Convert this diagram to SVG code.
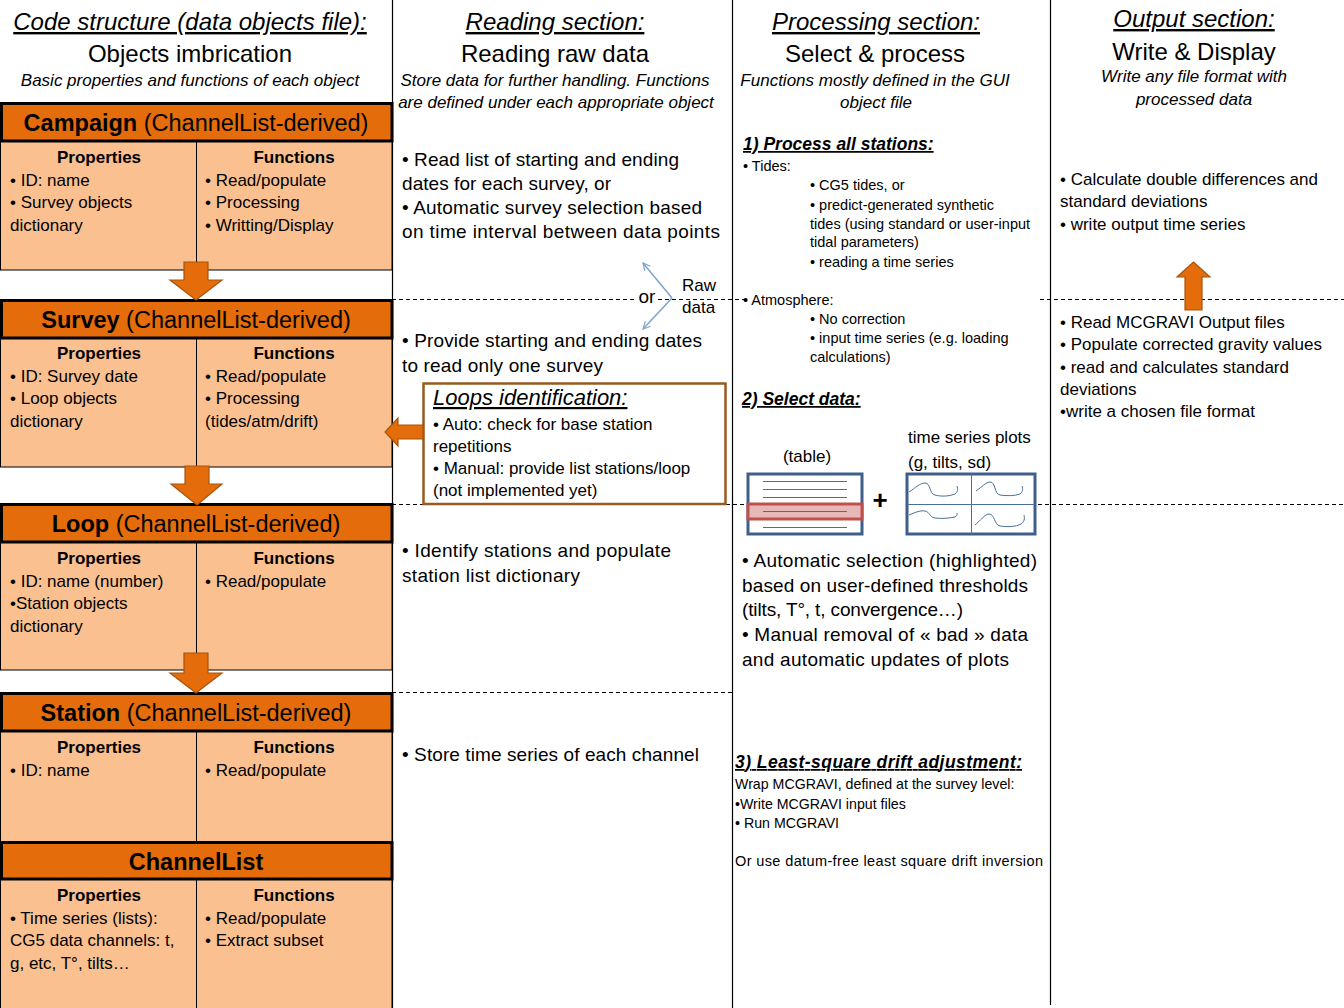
<svg xmlns="http://www.w3.org/2000/svg" width="1344" height="1008" viewBox="0 0 1344 1008">
<style>
text { font-family: "Liberation Sans", Arial, sans-serif; fill: #000; }
.title { font-size: 24px; font-style: italic; text-decoration: underline; }
.sub { font-size: 24px; }
.it { font-size: 17px; font-style: italic; }
.hdr { font-size: 23.5px; }
.f17 { font-size: 17px; }
.f19 { font-size: 19px; }
.f14 { font-size: 14.5px; }
.b { font-weight: bold; }
.sec { font-size: 17.5px; font-weight: bold; font-style: italic; text-decoration: underline; }
.hbar { fill: #E46C0A; stroke: #000; stroke-width: 3; }
.body { fill: #FAC090; stroke: #000; stroke-width: 1; }
.div { stroke: #000; stroke-width: 1; }
.col { stroke: #000; stroke-width: 1.2; }
.dash { stroke: #000; stroke-width: 1; stroke-dasharray: 4 3; fill: none; }
.oarrow { fill: #E46C0A; stroke: #A8540C; stroke-width: 1.2; }
.blue { stroke: #7FA3CC; stroke-width: 1.5; fill: none; }
.tline { stroke: #4A6F9C; stroke-width: 1; }
.frame { fill: #fff; stroke: #3E5F8A; stroke-width: 3; }
</style>
<defs>
<marker id="openhead" viewBox="0 0 10 10" refX="9" refY="5" markerWidth="9" markerHeight="9" markerUnits="userSpaceOnUse" orient="auto">
<path d="M1,1 L9,5 L1,9" fill="none" stroke="#7FA3CC" stroke-width="1.3"/>
</marker>
</defs>
<rect x="0" y="0" width="1344" height="1008" fill="#fff"/>

<!-- column separators -->
<g id="columns">
<line class="col" x1="392.5" y1="0" x2="392.5" y2="1008"/>
<line class="col" x1="732.5" y1="0" x2="732.5" y2="1008"/>
<line class="col" x1="1050.5" y1="0" x2="1050.5" y2="1005"/>
</g>

<g id="separators">
<line class="dash" x1="392" y1="299.5" x2="746" y2="299.5"/>
<line class="dash" x1="1040" y1="299.5" x2="1344" y2="299.5"/>
<line class="dash" x1="392" y1="504.5" x2="423" y2="504.5"/>
<line class="dash" x1="726" y1="504.5" x2="746" y2="504.5"/>
<line class="dash" x1="1038" y1="504.5" x2="1344" y2="504.5"/>
<line class="dash" x1="392" y1="692.5" x2="732" y2="692.5"/>
</g>

<!-- column headers -->
<g id="header-code">
<text class="title" x="190" y="30" text-anchor="middle">Code structure (data objects file):</text>
<text class="sub" x="190" y="62" text-anchor="middle">Objects imbrication</text>
<text class="it" x="190" y="86" text-anchor="middle">Basic properties and functions of each object</text>
</g>
<g id="header-reading">
<text class="title" x="555" y="30" text-anchor="middle">Reading section:</text>
<text class="sub" x="555" y="62" text-anchor="middle">Reading raw data</text>
<text class="it" x="555" y="86" text-anchor="middle">Store data for further handling. Functions</text>
<text class="it" x="556" y="108" text-anchor="middle">are defined under each appropriate object</text>
</g>
<g id="header-processing">
<text class="title" x="876" y="30" text-anchor="middle">Processing section:</text>
<text class="sub" x="875" y="62" text-anchor="middle">Select &amp; process</text>
<text class="it" x="875" y="86" text-anchor="middle">Functions mostly defined in the GUI</text>
<text class="it" x="876" y="108" text-anchor="middle">object file</text>
</g>
<g id="header-output">
<text class="title" x="1194" y="27" text-anchor="middle">Output section:</text>
<text class="sub" x="1194" y="60" text-anchor="middle">Write &amp; Display</text>
<text class="it" x="1194" y="82" text-anchor="middle">Write any file format with</text>
<text class="it" x="1194" y="105" text-anchor="middle">processed data</text>
</g>

<!-- Campaign -->
<g id="campaign">
<rect class="body" x="0.5" y="141" width="391.5" height="129"/>
<line class="div" x1="196.5" y1="141" x2="196.5" y2="270"/>
<rect class="hbar" x="1.5" y="103.5" width="390.5" height="37.5"/>
<text class="hdr" x="196" y="131" text-anchor="middle"><tspan class="b">Campaign</tspan> (ChannelList-derived)</text>
<text class="f17 b" x="99" y="163" text-anchor="middle">Properties</text>
<text class="f17 b" x="294" y="163" text-anchor="middle">Functions</text>
<text class="f17" x="10" y="186">• ID: name</text>
<text class="f17" x="10" y="208">• Survey objects</text>
<text class="f17" x="10" y="231">dictionary</text>
<text class="f17" x="205" y="186">• Read/populate</text>
<text class="f17" x="205" y="208">• Processing</text>
<text class="f17" x="205" y="231">• Writting/Display</text>
</g>

<!-- Survey -->
<g id="survey">
<rect class="body" x="0.5" y="338" width="391.5" height="129"/>
<line class="div" x1="196.5" y1="338" x2="196.5" y2="467"/>
<rect class="hbar" x="1.5" y="300.5" width="390.5" height="37.5"/>
<text class="hdr" x="196" y="328" text-anchor="middle"><tspan class="b">Survey</tspan> (ChannelList-derived)</text>
<text class="f17 b" x="99" y="359" text-anchor="middle">Properties</text>
<text class="f17 b" x="294" y="359" text-anchor="middle">Functions</text>
<text class="f17" x="10" y="382">• ID: Survey date</text>
<text class="f17" x="10" y="404">• Loop objects</text>
<text class="f17" x="10" y="427">dictionary</text>
<text class="f17" x="205" y="382">• Read/populate</text>
<text class="f17" x="205" y="404">• Processing</text>
<text class="f17" x="205" y="427">(tides/atm/drift)</text>
</g>

<!-- Loop -->
<g id="loop">
<rect class="body" x="0.5" y="542" width="391.5" height="128"/>
<line class="div" x1="196.5" y1="542" x2="196.5" y2="670"/>
<rect class="hbar" x="1.5" y="504.5" width="390.5" height="37.5"/>
<text class="hdr" x="196" y="532" text-anchor="middle"><tspan class="b">Loop</tspan> (ChannelList-derived)</text>
<text class="f17 b" x="99" y="564" text-anchor="middle">Properties</text>
<text class="f17 b" x="294" y="564" text-anchor="middle">Functions</text>
<text class="f17" x="10" y="587">• ID: name (number)</text>
<text class="f17" x="10" y="609">•Station objects</text>
<text class="f17" x="10" y="632">dictionary</text>
<text class="f17" x="205" y="587">• Read/populate</text>
</g>

<!-- Station -->
<g id="station">
<rect class="body" x="0.5" y="731" width="391.5" height="111"/>
<line class="div" x1="196.5" y1="731" x2="196.5" y2="842"/>
<rect class="hbar" x="1.5" y="693.5" width="390.5" height="37.5"/>
<text class="hdr" x="196" y="721" text-anchor="middle"><tspan class="b">Station</tspan> (ChannelList-derived)</text>
<text class="f17 b" x="99" y="753" text-anchor="middle">Properties</text>
<text class="f17 b" x="294" y="753" text-anchor="middle">Functions</text>
<text class="f17" x="10" y="776">• ID: name</text>
<text class="f17" x="205" y="776">• Read/populate</text>
</g>

<!-- ChannelList -->
<g id="channellist">
<rect class="body" x="0.5" y="879" width="391.5" height="135"/>
<line class="div" x1="196.5" y1="879" x2="196.5" y2="1008"/>
<rect class="hbar" x="1.5" y="842.5" width="390.5" height="36.5"/>
<text class="hdr b" x="196" y="870" text-anchor="middle">ChannelList</text>
<text class="f17 b" x="99" y="901" text-anchor="middle">Properties</text>
<text class="f17 b" x="294" y="901" text-anchor="middle">Functions</text>
<text class="f17" x="10" y="924">• Time series (lists):</text>
<text class="f17" x="10" y="946">CG5 data channels: t,</text>
<text class="f17" x="10" y="969">g, etc, T°, tilts…</text>
<text class="f17" x="205" y="924">• Read/populate</text>
<text class="f17" x="205" y="946">• Extract subset</text>
</g>

<!-- Reading column texts -->
<g id="reading-surveys">
<text class="f19" x="402" y="166" textLength="277">• Read list of starting and ending</text>
<text class="f19" x="402" y="190" textLength="209">dates for each survey, or</text>
<text class="f19" x="402" y="214" textLength="300">• Automatic survey selection based</text>
<text class="f19" x="402" y="238" textLength="318">on time interval between data points</text>
</g>
<g id="raw-data">
<rect x="636" y="287" width="22" height="20" fill="#fff"/>
<text class="f19" x="647" y="303" text-anchor="middle">or</text>
<text class="f17" x="682" y="291">Raw</text>
<text class="f17" x="682" y="313">data</text>
</g>
<g id="reading-one-survey">
<text class="f19" x="402" y="347" textLength="300">• Provide starting and ending dates</text>
<text class="f19" x="402" y="372" textLength="201">to read only one survey</text>
</g>
<g id="loops-identification">
<rect x="423.5" y="383.5" width="302" height="120.5" fill="#fff" stroke="#985A1E" stroke-width="2.5"/>
<text x="433" y="405" style="font-size:22px;font-style:italic;text-decoration:underline">Loops identification:</text>
<text class="f17" x="433" y="430">• Auto: check for base station</text>
<text class="f17" x="433" y="452">repetitions</text>
<text class="f17" x="433" y="474">• Manual: provide list stations/loop</text>
<text class="f17" x="433" y="496">(not implemented yet)</text>
</g>
<g id="reading-stations">
<text class="f19" x="402" y="557" textLength="269">• Identify stations and populate</text>
<text class="f19" x="402" y="582" textLength="178">station list dictionary</text>
</g>
<g id="reading-channels">
<text class="f19" x="402" y="761" textLength="297">• Store time series of each channel</text>
</g>

<!-- Processing column -->
<g id="process-stations">
<rect x="746" y="292" width="40" height="16" fill="#fff"/>
<text class="sec" x="743" y="150">1) Process  all stations:</text>
<text class="f14" x="743" y="171">• Tides:</text>
<text class="f14" x="810" y="190">• CG5 tides, or</text>
<text class="f14" x="810" y="210">• predict-generated synthetic</text>
<text class="f14" x="810" y="229">tides (using standard or user-input</text>
<text class="f14" x="810" y="247">tidal parameters)</text>
<text class="f14" x="810" y="267">• reading a time series</text>
<text class="f14" x="743" y="305">• Atmosphere:</text>
<text class="f14" x="810" y="324">• No correction</text>
<text class="f14" x="810" y="343">• input time series (e.g. loading</text>
<text class="f14" x="810" y="362">calculations)</text>
</g>
<g id="select-data">
<text class="sec" x="742" y="405">2) Select data:</text>
<text class="f17" x="807" y="462" text-anchor="middle">(table)</text>
<text class="f17" x="908" y="443">time series plots</text>
<text class="f17" x="908" y="468">(g, tilts, sd)</text>
<g id="table">
<rect class="frame" x="748" y="474" width="114" height="60"/>
<line class="tline" x1="763" y1="481.5" x2="847" y2="481.5"/>
<line class="tline" x1="763" y1="489.5" x2="847" y2="489.5"/>
<line class="tline" x1="763" y1="497.5" x2="847" y2="497.5"/>
<rect x="748" y="504" width="114" height="15" fill="#E6B9B8" stroke="#C0504D" stroke-width="3"/>
<line class="tline" x1="763" y1="511.5" x2="847" y2="511.5"/>
<line class="tline" x1="763" y1="527.5" x2="847" y2="527.5"/>
</g>
<text x="880" y="509" text-anchor="middle" style="font-size:26px;font-weight:bold">+</text>
<g id="plots">
<rect class="frame" x="907" y="474" width="128" height="60"/>
<line class="tline" x1="971.5" y1="474" x2="971.5" y2="534"/>
<line class="tline" x1="907" y1="504.5" x2="1035" y2="504.5"/>
<path class="tline" fill="none" d="M909,492 C915,488 920,483 925,483 C931,483 929,494 935,495 C942,497 950,496 955,494 C958,492 958,489 957,486"/>
<path class="tline" fill="none" d="M976,491 C982,487 986,482 990,482 C996,482 994,494 1000,495 C1006,496 1015,496 1020,494 C1023,492 1023,489 1022,486"/>
<path class="tline" fill="none" d="M909,515 C914,513 920,510 925,511 C930,512 929,517 935,518 C942,519 950,518 955,517 C957,516 957,515 957,513"/>
<path class="tline" fill="none" d="M975,525 C980,521 985,514 989,514 C995,514 994,525 1000,526 C1006,527 1016,527 1021,524 C1024,522 1025,519 1024,515"/>
</g>
<text class="f19" x="742" y="567" textLength="295">• Automatic selection  (highlighted)</text>
<text class="f19" x="742" y="592" textLength="286">based on user-defined  thresholds</text>
<text class="f19" x="742" y="616" textLength="221">(tilts, T°, t, convergence…)</text>
<text class="f19" x="742" y="641" textLength="286">• Manual removal of « bad » data</text>
<text class="f19" x="742" y="666" textLength="267">and automatic updates of plots</text>
</g>
<g id="drift-adjustment">
<text class="sec" x="735" y="768" textLength="287">3) Least-square  drift adjustment:</text>
<text class="f14" x="735" y="789" style="font-size:14.2px">Wrap MCGRAVI, defined at the  survey level:</text>
<text class="f14" x="735" y="809" style="font-size:14.2px">•Write MCGRAVI input files</text>
<text class="f14" x="735" y="828" style="font-size:14.2px">• Run MCGRAVI</text>
<text class="f14" x="735" y="866" textLength="308">Or use datum-free least square drift inversion</text>
</g>

<!-- Output column -->
<g id="output-results">
<text class="f17" x="1060" y="185">• Calculate double differences and</text>
<text class="f17" x="1060" y="207">standard deviations</text>
<text class="f17" x="1060" y="230">• write output time series</text>
</g>
<g id="output-read">
<text class="f17" x="1060" y="328">• Read MCGRAVI Output files</text>
<text class="f17" x="1060" y="350">• Populate corrected gravity values</text>
<text class="f17" x="1060" y="373">• read and calculates standard</text>
<text class="f17" x="1060" y="395">deviations</text>
<text class="f17" x="1060" y="417">•write a chosen file format</text>
</g>

<!-- connectors -->
<g id="connectors">
<path class="oarrow" d="M184,262 L208,262 L208,280 L222,280 L196,300 L170,280 L184,280 Z"/>
<path class="oarrow" d="M185,466 L209,466 L209,484 L222,484 L197,505 L171,484 L185,484 Z"/>
<path class="oarrow" d="M184,653 L208,653 L208,673 L222,673 L196,693 L170,673 L184,673 Z"/>
<path class="oarrow" d="M423,425 L398,425 L398,418 L385,432 L398,446 L398,439 L423,439 Z"/>
<path class="oarrow" d="M1185,310 L1202,310 L1202,277 L1210,277 L1193.5,262 L1177,277 L1185,277 Z"/>
<line class="blue" x1="672" y1="298" x2="643" y2="263" marker-end="url(#openhead)"/>
<line class="blue" x1="672" y1="298" x2="643" y2="329" marker-end="url(#openhead)"/>
</g>
</svg>
